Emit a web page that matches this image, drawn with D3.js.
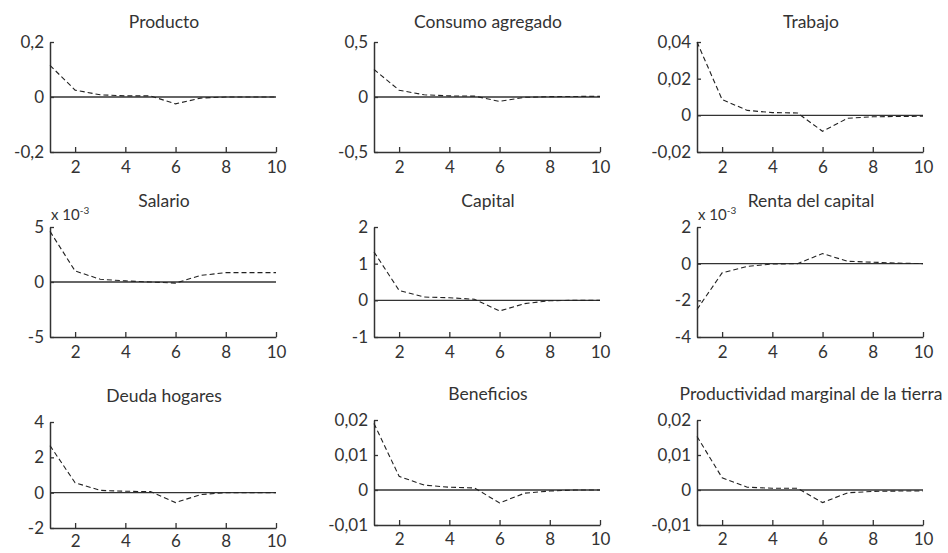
<!DOCTYPE html>
<html>
<head>
<meta charset="utf-8">
<script src="https://cdn.jsdelivr.net/npm/d3@7"></script>
<style>
    body { margin: 0; background: #fff; }
    svg text { font-family: Lato, "Open Sans", sans-serif; fill: #333; }
</style>
</head>
<body>
<svg id="chart" width="948" height="553"></svg>
<script>
// periods on the x axis
var periods = [1, 2, 3, 4, 5, 6, 7, 8, 9, 10];
var xTicks = [2, 4, 6, 8, 10];

var titles = ["Producto", "Consumo agregado", "Trabajo",
              "Salario", "Capital", "Renta del capital",
              "Deuda hogares", "Beneficios", "Productividad marginal de la tierra"];

// impulse responses
var producto      = [0.115, 0.025, 0.008, 0.004, 0.004, -0.025, -0.004, 0, 0, 0];
var consumo       = [0.25, 0.062, 0.02, 0.01, 0.008, -0.04, -0.003, 0.003, 0.005, 0.006];
var trabajo       = [0.04, 0.0086, 0.0027, 0.0015, 0.0013, -0.0087, -0.0016, -0.0008, -0.0006, -0.0005];
var salario       = [4.6, 1.0, 0.25, 0.1, 0, -0.1, 0.6, 0.85, 0.85, 0.85];        // x 10^-3
var capital       = [1.32, 0.27, 0.09, 0.07, 0.03, -0.29, -0.09, -0.01, 0, 0];
var renta         = [-2.5, -0.5, -0.15, -0.02, 0, 0.55, 0.13, 0.08, 0.03, 0];       // x 10^-3
var deuda         = [2.66, 0.56, 0.13, 0.08, 0.06, -0.56, -0.11, 0, 0, 0];
var beneficios    = [0.019, 0.0039, 0.0014, 0.0008, 0.0006, -0.0037, -0.0009, -0.0003, 0, 0];
var productividad = [0.0153, 0.0035, 0.0008, 0.0005, 0.0005, -0.0036, -0.0008, -0.0004, -0.0003, -0.0003];

var series = [producto, consumo, trabajo, salario, capital, renta, deuda, beneficios, productividad];

// y tick values per panel
var yTicks = [
    [-0.2, 0, 0.2], [-0.5, 0, 0.5], [-0.02, 0, 0.02, 0.04],
    [-5, 0, 5], [-1, 0, 1, 2], [-4, -2, 0, 2],
    [-2, 0, 2, 4], [-0.01, 0, 0.01, 0.02], [-0.01, 0, 0.01, 0.02]
];
var scaled = [false, false, false, true, false, true, false, false, false];

// layout
var colX = [50, 374, 697];
var plotW = 226;
var panelTop    = [42, 42, 42, 227, 227, 227, 422, 420, 420];
var panelBottom = [152, 152, 152, 337, 337, 337, 528, 525, 525];
var tickPad     = [9, 9, 9, 9, 9, 9, 7, 8, 8];

var locale = d3.formatLocale({ decimal: ",", thousands: ".", grouping: [3], currency: ["", ""], minus: "-" });
var fmt = locale.format("");

var svg = d3.select("#chart");
var ink = "#333";

series.forEach(function (values, i)
{
    var x0 = colX[i % 3];
    var ticks = yTicks[i];

    var x = d3.scaleLinear().domain([1, 10]).range([x0, x0 + plotW]);
    var y = d3.scaleLinear().domain([d3.min(ticks), d3.max(ticks)]).range([panelBottom[i], panelTop[i]]);

    var g = svg.append("g").attr("class", "panel");

    // zero line
    g.append("line")
        .attr("x1", x(1)).attr("x2", x(10))
        .attr("y1", y(0)).attr("y2", y(0))
        .attr("stroke", ink).attr("stroke-width", 1.3);

    // axes
    var yAxis = g.append("g")
        .attr("transform", "translate(" + x(1) + ",0)")
        .call(d3.axisLeft(y).tickValues(ticks).tickSizeInner(-4).tickSizeOuter(0).tickPadding(6).tickFormat(fmt));

    var xAxis = g.append("g")
        .attr("transform", "translate(0," + y.range()[0] + ")")
        .call(d3.axisBottom(x).tickValues(xTicks).tickSizeInner(-5).tickSizeOuter(0).tickPadding(tickPad[i]));

    [yAxis, xAxis].forEach(function (a) {
        a.select(".domain").attr("stroke", ink).attr("stroke-width", 1.5);
        a.selectAll(".tick line").attr("stroke", ink).attr("stroke-width", 1.3);
        a.selectAll(".tick text").attr("font-size", 17).attr("fill", ink);
    });

    // response
    var line = d3.line()
        .x(function (d, k) { return x(periods[k]); })
        .y(function (d) { return y(d); });

    g.append("path")
        .datum(values)
        .attr("d", line)
        .attr("fill", "none")
        .attr("stroke", "#222")
        .attr("stroke-width", 1.1)
        .attr("stroke-dasharray", "5,3");

    // title
    g.append("text")
        .attr("x", x0 + plotW / 2 + 1)
        .attr("y", panelTop[i] - (i < 3 ? 14 : 20))
        .attr("text-anchor", "middle")
        .attr("font-size", 17.5)
        .text(titles[i]);

    // scale factor
    if (scaled[i])
    {
        var t = g.append("text")
            .attr("x", x0 + 1)
            .attr("y", panelTop[i] - 7)
            .attr("font-size", 15);
        t.append("tspan").text("x 10");
        t.append("tspan").attr("dy", -6).attr("font-size", 10).text("-3");
    }
});
</script>
</body>
</html>
